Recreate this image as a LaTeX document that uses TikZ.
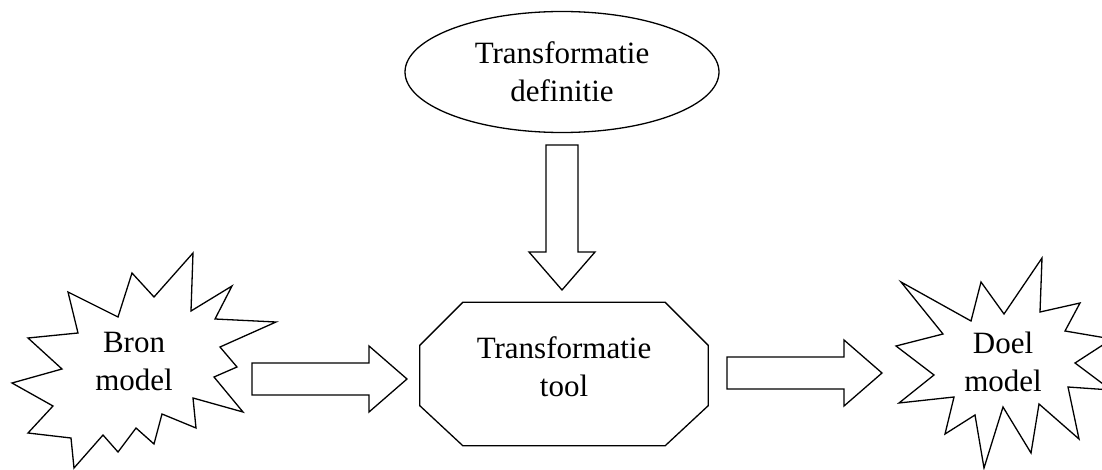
\documentclass[tikz,border=0pt]{standalone}
\usepackage{fontspec}
\setmainfont{Liberation Serif}
\usetikzlibrary{shapes.geometric,positioning,calc}
\tikzset{
  outline/.style={draw, line width=1.3pt, line join=miter},
  lbl/.style={font=\fontsize{31}{38}\selectfont, align=center, inner sep=0pt},
  defbox/.style={outline, ellipse, lbl, minimum width=314pt, minimum height=121pt},
  toolbox/.style={minimum width=288pt, minimum height=143pt, inner sep=0pt},
  burst/.style={outline},
  pics/fatarrow/.style={code={
    \draw[outline] (0,-16) -- (#1-38,-16) -- (#1-38,-33) -- (#1,0)
      -- (#1-38,33) -- (#1-38,16) -- (0,16) -- cycle;
  }},
}
\begin{document}
\begin{tikzpicture}[x=1pt, y=-1pt]
\fill[white] (0,0) rectangle (1102,470);
\useasboundingbox (0,0) rectangle (1102,470);
% --- transformation definition
\node[defbox] (def) at (562,72) {Transformatie\\definitie};
% --- transformation tool
\node[toolbox] (tool) at (564,374) {};
\draw[outline] ([xshift=43pt]tool.north west) -- ([xshift=-43pt]tool.north east)
  -- ([yshift=-43pt]tool.north east) -- ([yshift=40pt]tool.south east)
  -- ([xshift=-43pt]tool.south east) -- ([xshift=43pt]tool.south west)
  -- ([yshift=40pt]tool.south west) -- ([yshift=-43pt]tool.north west) -- cycle;
\node[lbl] (toollbl) at ([yshift=7pt]tool.center) {Transformatie\\tool};
% --- source model
\draw[burst] (193,253) -- (191,311) -- (232,286) -- (215,319) -- (276,322)
  -- (220,347) -- (237,367) -- (214,377) -- (243,412) -- (193,398)
  -- (196,428) -- (162,414) -- (154,444) -- (136,428) -- (118,452)
  -- (103,435) -- (74,468) -- (71,438) -- (28,433) -- (53,406)
  -- (12,383) -- (62,369) -- (28,338) -- (78,333) -- (68,292)
  -- (118,317) -- (132,273) -- (154,297) -- cycle;
\node[lbl] (bron) at (134,361) {Bron\\model};
% --- target model
\draw[burst] (1042,258) -- (1040,312) -- (1080,303) -- (1065,331) -- (1112,339)
  -- (1075,363) -- (1111,390) -- (1068,387) -- (1079,439) -- (1039,404)
  -- (1031,453) -- (1003,407) -- (984,468) -- (975,415) -- (945,434)
  -- (954,397) -- (899,403) -- (934,375) -- (896,346) -- (943,334)
  -- (901,282) -- (971,321) -- (981,282) -- (1004,314) -- cycle;
\node[lbl] (doel) at (1003,362) {Doel\\model};
% --- arrows
\coordinate (a1) at (252,379);
\coordinate (a2) at (727,373);
\coordinate (a3) at (562,145);
\pic at (a1) {fatarrow=155};
\pic at (a2) {fatarrow=155};
\pic[rotate=-90] at (a3) {fatarrow=145};
\end{tikzpicture}
\end{document}
